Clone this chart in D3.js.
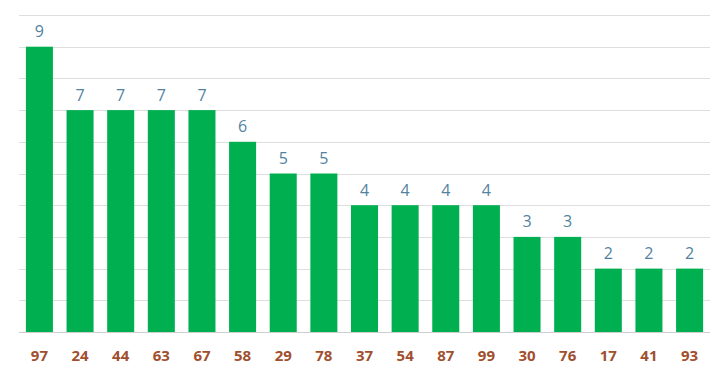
<!DOCTYPE html>
<html><head><meta charset="utf-8">
<script src="https://cdn.jsdelivr.net/npm/d3@7"></script>
<style>body{margin:0;background:#fff}svg{display:block}</style>
</head><body>
<script>
const categories = ["97","24","44","63","67","58","29","78","37","54","87","99","30","76","17","41","93"];
const values = [9,7,7,7,7,6,5,5,4,4,4,4,3,3,2,2,2];
const yTicks = [0,1,2,3,4,5,6,7,8,9,10];

(function () {
const W = 721, H = 373;
const mLeft = 19, mRight = 710, mTop = 15, mBottom = 332;
const svg = d3.select("body").append("svg").attr("width", W).attr("height", H);
const x = d3.scaleBand().domain(categories).range([mLeft, mRight]).paddingInner(0.335).paddingOuter(0.17);
const y = d3.scaleLinear().domain([0, 10]).range([mBottom, mTop]);

svg.append("g").selectAll("line").data(yTicks).join("line")
  .attr("x1", mLeft).attr("x2", mRight)
  .attr("y1", d => Math.round(y(d)) + 0.5).attr("y2", d => Math.round(y(d)) + 0.5)
  .attr("stroke", d => d === 0 ? "#cfcfcf" : "#dedede").attr("stroke-width", 1);

svg.append("g").selectAll("rect").data(values).join("rect")
  .attr("x", (d, i) => x(categories[i])).attr("width", x.bandwidth())
  .attr("y", d => y(d)).attr("height", d => y(0) - y(d))
  .attr("fill", "#00b050");

svg.append("g").selectAll("text").data(values).join("text")
  .attr("x", (d, i) => x(categories[i]) + x.bandwidth() / 2)
  .attr("y", d => y(d) - 9.5)
  .attr("text-anchor", "middle")
  .attr("font-family", "'Open Sans', sans-serif").attr("font-size", 16)
  .attr("fill", "#5382a0").text(d => d);

const xAxis = d3.axisBottom(x).tickSize(0).tickPadding(0);
const gx = svg.append("g").attr("transform", `translate(0,${mBottom})`).call(xAxis);
gx.select(".domain").remove();
gx.selectAll("text").attr("y", 28.5).attr("dy", 0)
  .attr("font-family", "'Open Sans', sans-serif").attr("font-size", 15).attr("font-weight", "bold")
  .attr("fill", "#a0502e");
})();
</script>
</body></html>
